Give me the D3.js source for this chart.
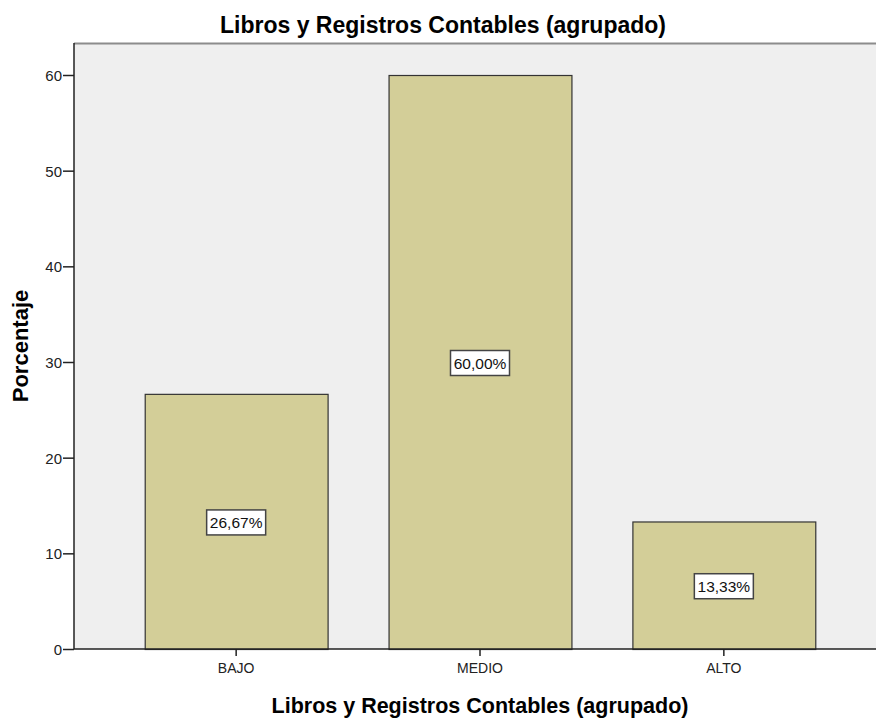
<!DOCTYPE html>
<html>
<head>
<meta charset="utf-8">
<script src="https://cdn.jsdelivr.net/npm/d3@7"></script>
<style>
  body { margin: 0; background: #fff; }
  text { font-family: "Liberation Sans", Arial, sans-serif; }
</style>
</head>
<body>
<svg id="chart"></svg>
<script>
// Data
var categories = ["BAJO", "MEDIO", "ALTO"];
var values = [26.67, 60.00, 13.33];
var valueLabels = ["26,67%", "60,00%", "13,33%"];
var yTicks = [0, 10, 20, 30, 40, 50, 60];

var W = 876, H = 718;
var margin = {top: 43, left: 74, bottom: 69};
var plotRight = 886; // plot frame runs past the picture edge

var svg = d3.select("#chart")
  .attr("width", W)
  .attr("height", H);

var x = d3.scaleBand()
  .domain(categories)
  .range([margin.left, plotRight])
  .paddingInner(0.25)
  .paddingOuter(0.29);

var y = d3.scaleLinear()
  .domain([0, 60])
  .range([H - margin.bottom, margin.top + 32]);

// plot background
svg.append("rect")
  .attr("x", margin.left)
  .attr("y", margin.top)
  .attr("width", plotRight - margin.left)
  .attr("height", y(0) - margin.top)
  .attr("fill", "#efefef");

// top frame line
svg.append("line")
  .attr("x1", margin.left).attr("x2", W)
  .attr("y1", margin.top + 0.5).attr("y2", margin.top + 0.5)
  .attr("stroke", "#8c8c8c")
  .attr("stroke-width", 2);

// bars
svg.selectAll(".bar")
  .data(values)
  .enter().append("rect")
  .attr("class", "bar")
  .attr("x", function(d, i) { return x(categories[i]) + 0.5; })
  .attr("y", function(d) { return y(d) + 0.5; })
  .attr("width", x.bandwidth())
  .attr("height", function(d) { return y(0) - y(d); })
  .attr("fill", "#d3ce98")
  .attr("stroke", "#333")
  .attr("stroke-width", 1.2);

// value labels in boxes
var lab = svg.selectAll(".lab")
  .data(values)
  .enter().append("g")
  .attr("class", "lab")
  .attr("transform", function(d, i) {
    return "translate(" + (x(categories[i]) + x.bandwidth() / 2) + "," + y(d / 2) + ")";
  });

lab.append("rect")
  .attr("x", -29.5).attr("y", -11.5)
  .attr("width", 59).attr("height", 25)
  .attr("fill", "#fff")
  .attr("stroke", "#444")
  .attr("stroke-width", 1.5);

lab.append("text")
  .attr("text-anchor", "middle")
  .attr("y", 7)
  .style("font-size", "15.5px")
  .style("fill", "#111")
  .text(function(d, i) { return valueLabels[i]; });

// y axis
var yAxis = svg.append("g")
  .attr("transform", "translate(" + margin.left + ",0)")
  .call(d3.axisLeft(y).tickValues(yTicks).tickSize(11).tickSizeOuter(0));
yAxis.select(".domain").attr("stroke", "#222").attr("stroke-width", 1.5)
  .attr("d", "M0," + margin.top + "V" + y(0));
yAxis.selectAll(".tick line").attr("stroke", "#222").attr("stroke-width", 1.5);
yAxis.selectAll(".tick text")
  .attr("x", -12)
  .attr("dy", "0.36em")
  .style("font-size", "15px")
  .style("fill", "#222");

// x axis
var xAxis = svg.append("g")
  .attr("transform", "translate(0," + y(0) + ")")
  .call(d3.axisBottom(x).tickSize(7).tickSizeOuter(0));
xAxis.select(".domain").attr("stroke", "#222").attr("stroke-width", 1.5)
  .attr("d", "M" + margin.left + ",0H" + W);
xAxis.selectAll(".tick line").attr("stroke", "#222").attr("stroke-width", 1.5);
xAxis.selectAll(".tick text")
  .attr("y", 14)
  .style("font-size", "14px")
  .style("fill", "#222");

// titles
svg.append("text")
  .attr("x", 443).attr("y", 33)
  .attr("text-anchor", "middle")
  .style("font-size", "23px")
  .style("font-weight", "bold")
  .text("Libros y Registros Contables (agrupado)");

svg.append("text")
  .attr("x", 480).attr("y", 713)
  .attr("text-anchor", "middle")
  .style("font-size", "21.5px")
  .style("font-weight", "bold")
  .text("Libros y Registros Contables (agrupado)");

svg.append("text")
  .attr("transform", "translate(28," + ((margin.top + y(0)) / 2) + ") rotate(-90)")
  .attr("text-anchor", "middle")
  .style("font-size", "22px")
  .style("font-weight", "bold")
  .text("Porcentaje");
</script>
</body>
</html>
